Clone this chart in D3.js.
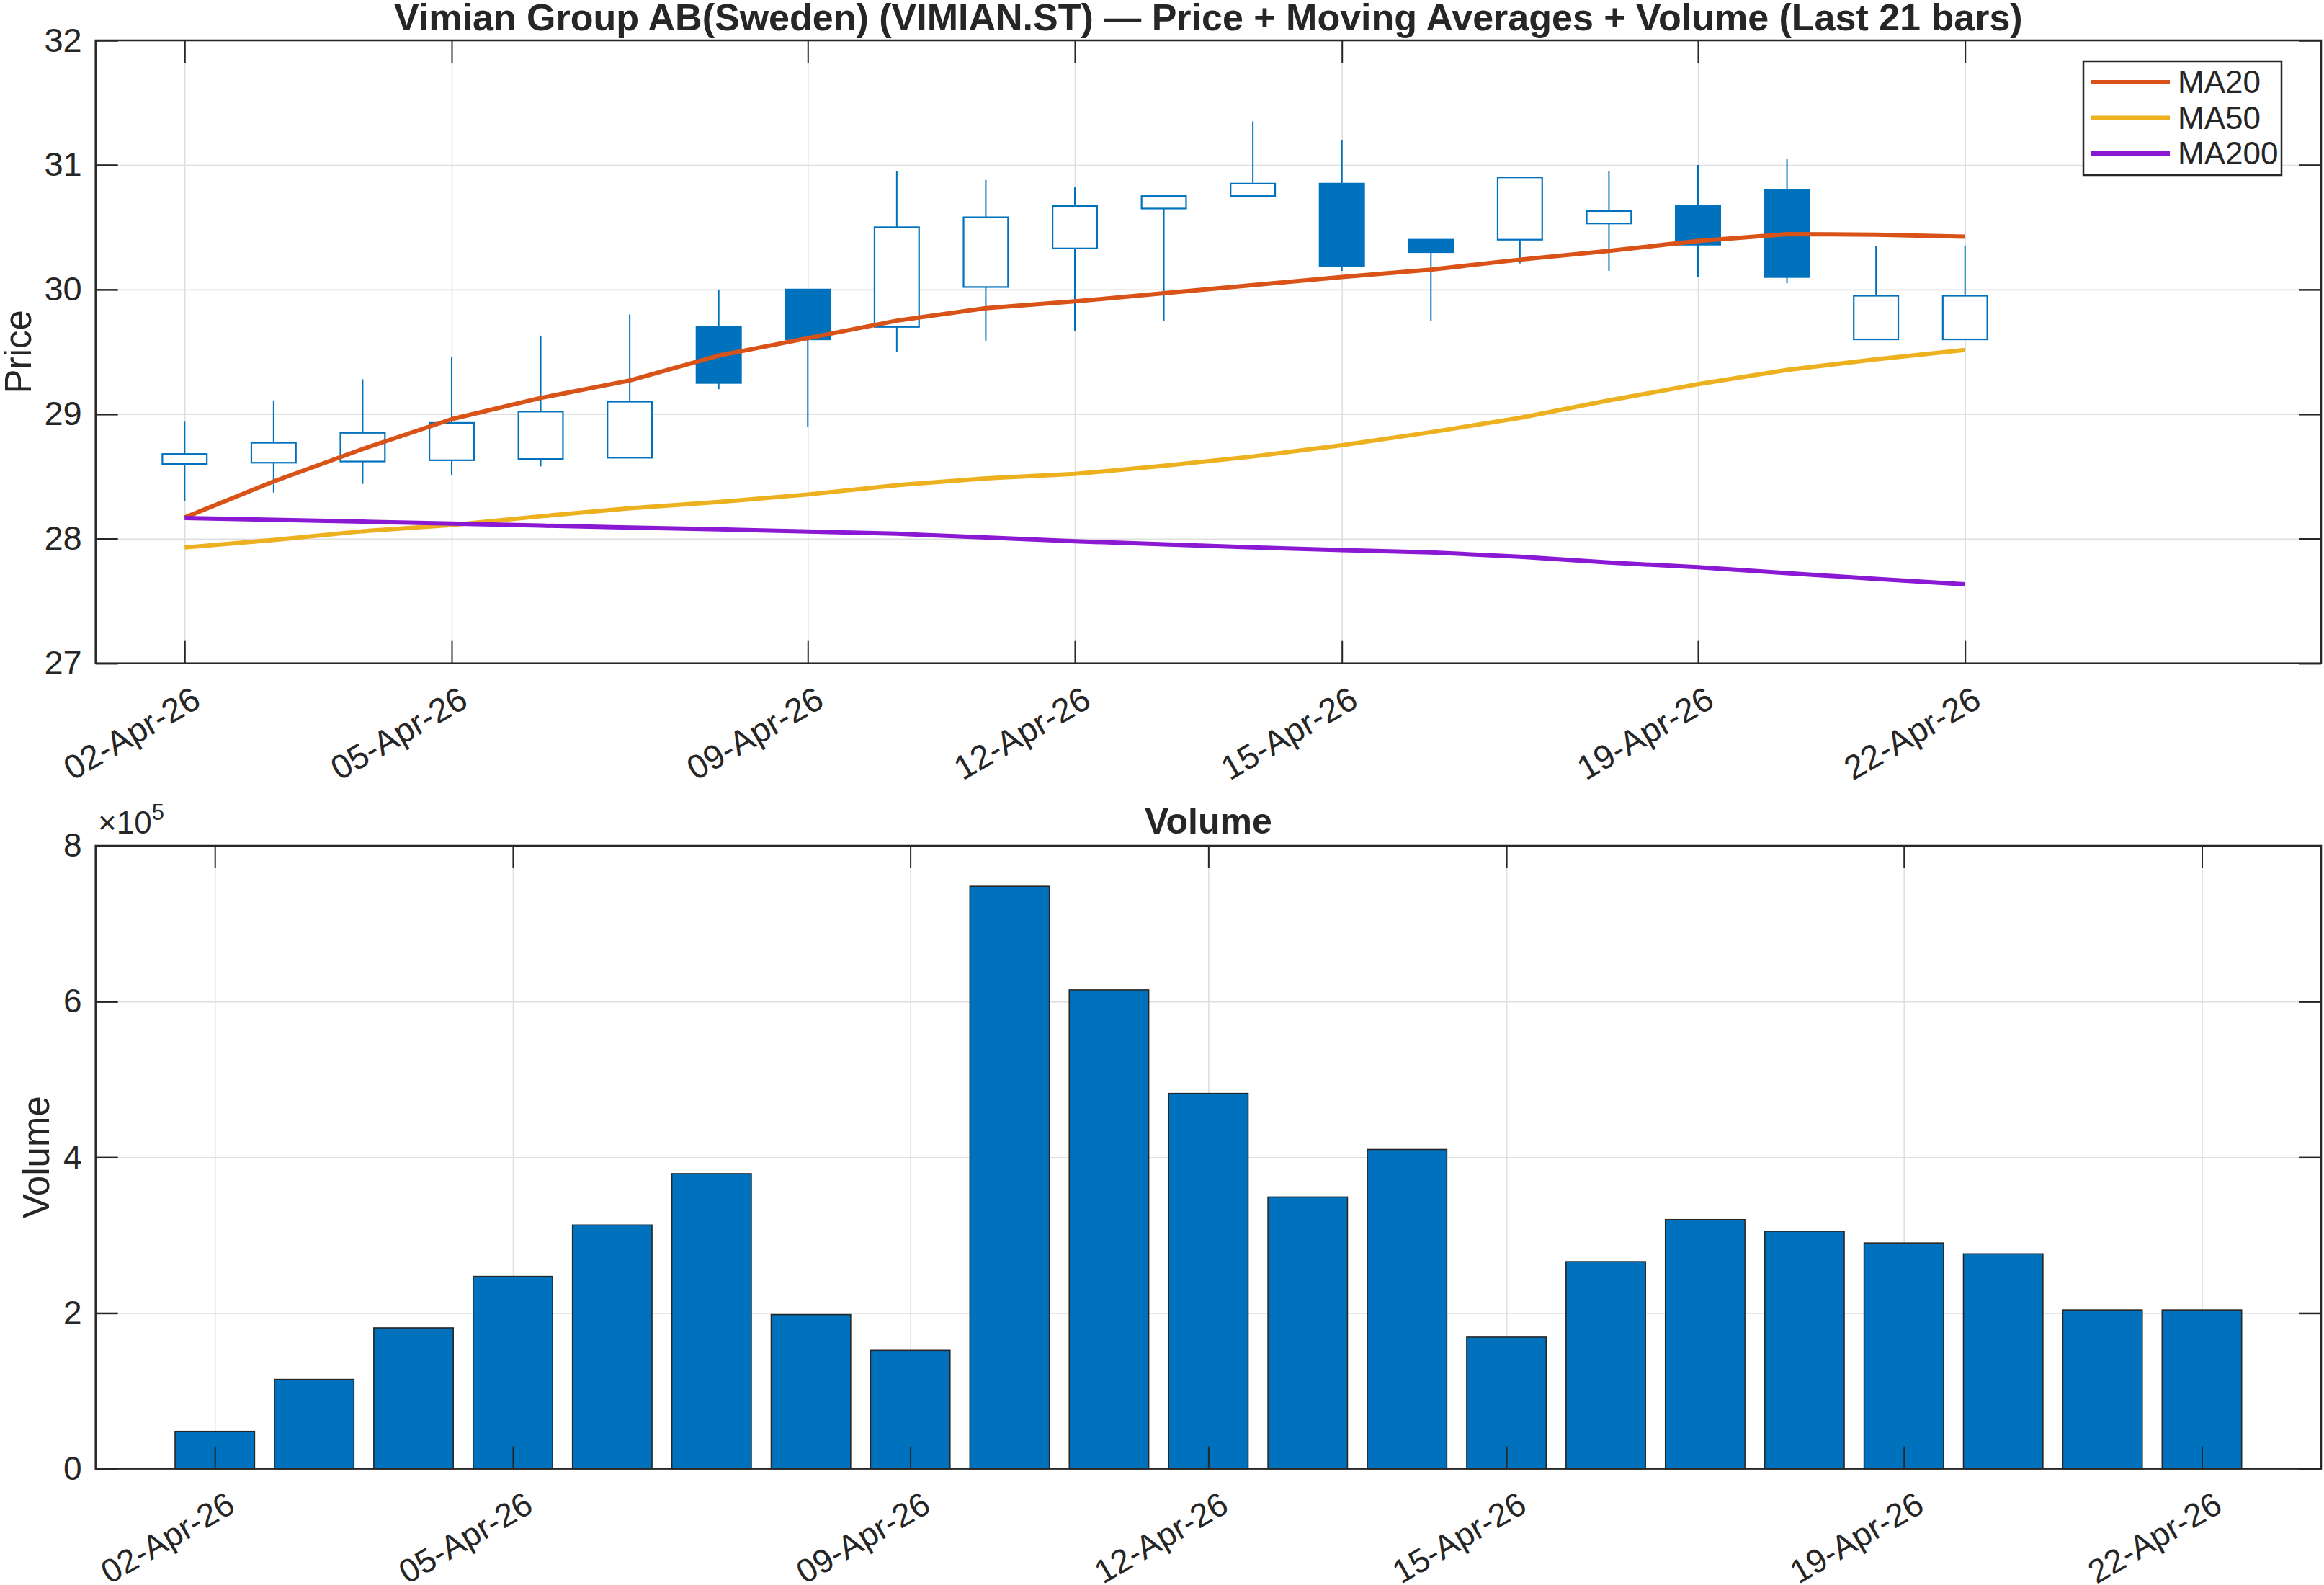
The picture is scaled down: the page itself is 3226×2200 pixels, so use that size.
<!DOCTYPE html>
<html><head><meta charset="utf-8">
<script src="https://cdn.jsdelivr.net/npm/d3@7"></script>
<style>
html,body{margin:0;padding:0;background:#fff}
svg{display:block}
text{font-family:"Liberation Sans",Arial,Helvetica,sans-serif;fill:#262626}
</style>
</head><body>
<svg id="chart" width="3226" height="2200"></svg>
<script>
// ---------------- data ----------------
const dates = ["2026-04-02","2026-04-03","2026-04-04","2026-04-05","2026-04-06","2026-04-07","2026-04-08",
  "2026-04-09","2026-04-10","2026-04-11","2026-04-12","2026-04-13","2026-04-14","2026-04-15",
  "2026-04-16","2026-04-17","2026-04-18","2026-04-19","2026-04-20","2026-04-21","2026-04-22"];
const openP  = [28.60,28.61,28.62,28.63,28.64,28.65,29.70,30.00,29.70,30.02,30.33,30.65,30.75,30.85,30.40,30.40,30.53,30.67,30.80,29.60,29.60];
const highP  = [28.94,29.11,29.28,29.46,29.63,29.80,30.00,30.00,30.95,30.88,30.82,30.75,31.35,31.20,30.40,30.90,30.95,31.00,31.05,30.35,30.35];
const lowP   = [28.30,28.37,28.44,28.51,28.58,28.65,29.20,28.90,29.50,29.59,29.67,29.75,30.75,30.15,29.75,30.21,30.15,30.10,30.05,29.60,29.60];
const closeP = [28.68,28.77,28.85,28.93,29.02,29.10,29.25,29.60,30.50,30.58,30.67,30.75,30.85,30.19,30.30,30.90,30.63,30.36,30.10,29.95,29.95];
const ma20  = [28.17,28.46,28.72,28.96,29.13,29.27,29.47,29.61,29.75,29.85,29.905,29.97,30.035,30.10,30.16,30.24,30.31,30.39,30.445,30.44,30.425];
const ma50  = [27.93,27.99,28.06,28.11,28.18,28.245,28.295,28.355,28.43,28.485,28.52,28.585,28.66,28.75,28.855,28.97,29.11,29.24,29.355,29.44,29.515];
const ma200 = [28.166,28.152,28.137,28.121,28.105,28.09,28.075,28.058,28.04,28.01,27.98,27.955,27.93,27.909,27.89,27.855,27.809,27.771,27.724,27.678,27.634];
const volume = [48000,114700,181000,247000,313000,379000,198000,152000,748000,615000,482000,349000,410000,169000,266000,320000,305000,290000,276000,204000,204000];
const tickDates = ["2026-04-02","2026-04-05","2026-04-09","2026-04-12","2026-04-15","2026-04-19","2026-04-22"];
const priceTicks = [27,28,29,30,31,32];
const volTicks = [0,200000,400000,600000,800000];
const maSeries = [
  {name:"MA20", values:ma20, color:"#D95319"},
  {name:"MA50", values:ma50, color:"#EDB120"},
  {name:"MA200", values:ma200, color:"#8B18D3"}
];
const titleTop = "Vimian Group AB(Sweden) (VIMIAN.ST) \u2014 Price + Moving Averages + Volume (Last 21 bars)";

// ---------------- setup ----------------
const parse = d3.utcParse("%Y-%m-%d");
const fmt = d3.utcFormat("%d-%b-%y");
const D = dates.map(parse);
const TD = tickDates.map(parse);
const DAY = 864e5;
const svg = d3.select("#chart");
svg.append("rect").attr("width",3226).attr("height",2200).attr("fill","#fff");

const AX = "#262626", GRID = "#dfdfdf", BLUE = "#0072BD";
const L = 132.7, R = 3222;
const top1 = 56, bot1 = 920.7, top2 = 1174, bot2 = 2038.6;
const TICK = 31;

const x1 = d3.scaleUtc().domain([parse("2026-04-01"), parse("2026-04-26")]).range([L, R]);
const y1 = d3.scaleLinear().domain([27, 32]).range([bot1, top1]);
const x2 = d3.scaleUtc().domain([new Date(+D[0] - 1.2*DAY), new Date(+D[20] + 1.2*DAY)]).range([L, R]);
const y2 = d3.scaleLinear().domain([0, 800000]).range([bot2, top2]);

function grid(g, x, y, top, bot, yt) {
  g.append("g").attr("transform",`translate(0,${bot})`)
    .call(d3.axisBottom(x).tickValues(TD).tickSize(-(bot-top)).tickFormat(""))
    .call(s => { s.select(".domain").remove(); s.selectAll("line").attr("stroke",GRID).attr("stroke-width",1.6); });
  g.append("g").attr("transform",`translate(${L},0)`)
    .call(d3.axisLeft(y).tickValues(yt).tickSize(-(R-L)).tickFormat(""))
    .call(s => { s.select(".domain").remove(); s.selectAll("line").attr("stroke",GRID).attr("stroke-width",1.6); });
}

function frame(g, x, y, top, bot, yt, yfmt, fs, xoff, yoff) {
  const gb = g.append("g").attr("transform",`translate(0,${bot})`)
    .call(d3.axisBottom(x).tickValues(TD).tickSizeInner(-TICK).tickSizeOuter(0).tickFormat(fmt));
  gb.select(".domain").remove();
  gb.selectAll("line").attr("stroke",AX).attr("stroke-width",2);
  gb.selectAll("text").attr("y",null).attr("dy","0.71em")
    .attr("font-size",fs).attr("fill","#262626").attr("text-anchor","end")
    .attr("transform",`translate(${xoff},${yoff}) rotate(-30)`);
  g.append("g").attr("transform",`translate(0,${top})`)
    .call(d3.axisTop(x).tickValues(TD).tickSizeInner(-TICK).tickSizeOuter(0).tickFormat(""))
    .call(s => { s.select(".domain").remove(); s.selectAll("line").attr("stroke",AX).attr("stroke-width",2); });
  const gl = g.append("g").attr("transform",`translate(${L},0)`)
    .call(d3.axisLeft(y).tickValues(yt).tickSizeInner(-TICK).tickSizeOuter(0).tickPadding(19).tickFormat(yfmt));
  gl.select(".domain").remove();
  gl.selectAll("line").attr("stroke",AX).attr("stroke-width",2.5);
  gl.selectAll("text").attr("font-size",fs).attr("fill","#262626");
  g.append("g").attr("transform",`translate(${R},0)`)
    .call(d3.axisRight(y).tickValues(yt).tickSizeInner(-TICK).tickSizeOuter(0).tickFormat(""))
    .call(s => { s.select(".domain").remove(); s.selectAll("line").attr("stroke",AX).attr("stroke-width",2.5); });
  g.append("rect").attr("x",L).attr("y",top).attr("width",R-L).attr("height",bot-top)
    .attr("fill","none").attr("stroke",AX).attr("stroke-width",2.5);
}

// ---------------- price panel ----------------
const gP = svg.append("g");
grid(gP, x1, y1, top1, bot1, priceTicks);

const half = (x1(new Date(+D[0] + 0.25*DAY)) - x1(D[0]));
const candles = gP.append("g").selectAll("g").data(D).join("g");
candles.append("line")
  .attr("x1",(d)=>x1(d)).attr("x2",(d)=>x1(d))
  .attr("y1",(d,i)=>y1(highP[i])).attr("y2",(d,i)=>y1(lowP[i]))
  .attr("stroke",BLUE).attr("stroke-width",2);
candles.append("rect")
  .attr("x",(d)=>x1(d)-half).attr("width",2*half)
  .attr("y",(d,i)=>y1(Math.max(openP[i],closeP[i])))
  .attr("height",(d,i)=>Math.max(1, Math.abs(y1(openP[i])-y1(closeP[i]))))
  .attr("fill",(d,i)=> closeP[i] >= openP[i] ? "#fff" : BLUE)
  .attr("stroke",BLUE).attr("stroke-width",2.2);

const line1 = d3.line().x((v,i)=>x1(D[i])).y(v=>y1(v));
gP.append("g").selectAll("path").data(maSeries).join("path")
  .attr("d",s=>line1(s.values)).attr("fill","none")
  .attr("stroke",s=>s.color).attr("stroke-width",6).attr("stroke-linejoin","round");

frame(gP, x1, y1, top1, bot1, priceTicks, d3.format("d"), 47, 8, 30);

gP.append("text").attr("x",(L+R)/2).attr("y",42).attr("text-anchor","middle")
  .attr("font-size",52).attr("font-weight","bold").text(titleTop);
gP.append("text").attr("transform",`translate(43,${(top1+bot1)/2}) rotate(-90)`)
  .attr("text-anchor","middle").attr("font-size",51).text("Price");

// legend
const lg = gP.append("g");
lg.append("rect").attr("x",2892).attr("y",85).attr("width",275).attr("height",158)
  .attr("fill","#fff").attr("stroke",AX).attr("stroke-width",2.5);
const lrow = lg.selectAll("g").data(maSeries).join("g")
  .attr("transform",(d,i)=>`translate(0,${114 + i*49.5})`);
lrow.append("line").attr("x1",2903).attr("x2",3012).attr("stroke",d=>d.color).attr("stroke-width",6);
lrow.append("text").attr("x",3023).attr("dy","0.35em").attr("font-size",44).text(d=>d.name);

// ---------------- volume panel ----------------
const gV = svg.append("g");
grid(gV, x2, y2, top2, bot2, volTicks);
const bw = x2(new Date(+D[0] + 0.8*DAY)) - x2(D[0]);
gV.append("g").selectAll("rect").data(D).join("rect")
  .attr("x",d=>x2(d)-bw/2).attr("width",bw)
  .attr("y",(d,i)=>y2(volume[i])).attr("height",(d,i)=>y2(0)-y2(volume[i]))
  .attr("fill",BLUE).attr("stroke",AX).attr("stroke-width",1.6);
frame(gV, x2, y2, top2, bot2, volTicks, v => d3.format("d")(v/1e5), 46, 14, 30);

gV.append("text").attr("x",(L+R)/2).attr("y",1157).attr("text-anchor","middle")
  .attr("font-size",50).attr("font-weight","bold").text("Volume");
gV.append("text").attr("transform",`translate(68,${(top2+bot2)/2}) rotate(-90)`)
  .attr("text-anchor","middle").attr("font-size",51).text("Volume");
const ex = gV.append("text").attr("x",136).attr("y",1157).attr("font-size",44);
ex.append("tspan").text("\u00d710");
ex.append("tspan").attr("dy",-19).attr("font-size",31).text("5");
</script>
</body></html>
